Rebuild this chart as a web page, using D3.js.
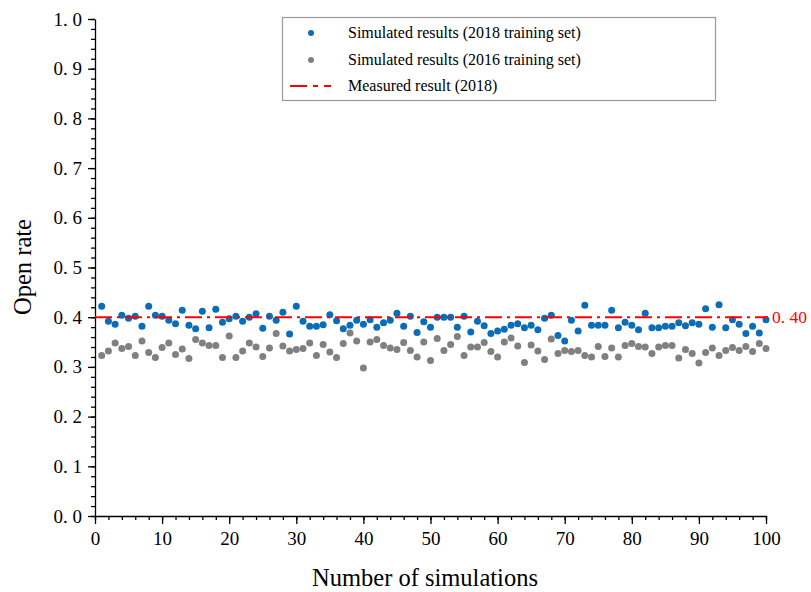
<!DOCTYPE html>
<html lang="en">
<head>
    <meta charset="UTF-8">
    <title>Open rate</title>
    <style>
        body { margin: 0; background: #fff; }
        svg { display: block; font-family: "Liberation Serif", "Times New Roman", serif; }
        .axis path, .axis line { stroke: #000; stroke-width: 1.3; }
        .axis text { font-size: 19px; fill: #000; }
    </style>
</head>
<body>
    <script src="https://d3js.org/d3.v7.min.js"></script>
    <script>
        // simulation index 1..100
        const simulations = d3.range(1, 101)

        const sim2018 = [
            0.422, 0.392, 0.386, 0.404, 0.398, 0.402, 0.382, 0.422, 0.404, 0.402,
            0.394, 0.387, 0.414, 0.384, 0.377, 0.412, 0.379, 0.416, 0.390, 0.397,
            0.402, 0.392, 0.400, 0.407, 0.378, 0.402, 0.394, 0.410, 0.366, 0.422,
            0.392, 0.382, 0.382, 0.385, 0.405, 0.393, 0.377, 0.384, 0.394, 0.386,
            0.395, 0.380, 0.389, 0.394, 0.408, 0.382, 0.402, 0.369, 0.391, 0.380,
            0.400, 0.400, 0.400, 0.380, 0.402, 0.370, 0.392, 0.383, 0.367, 0.372,
            0.376, 0.384, 0.387, 0.379, 0.384, 0.375, 0.398, 0.404, 0.363, 0.352,
            0.394, 0.372, 0.424, 0.384, 0.384, 0.384, 0.414, 0.379, 0.390, 0.384,
            0.375, 0.408, 0.379, 0.379, 0.382, 0.382, 0.389, 0.383, 0.389, 0.386,
            0.417, 0.380, 0.425, 0.379, 0.395, 0.386, 0.367, 0.382, 0.368, 0.395
        ]

        const sim2016 = [
            0.323, 0.332, 0.348, 0.337, 0.341, 0.323, 0.352, 0.329, 0.319, 0.339,
            0.348, 0.325, 0.336, 0.317, 0.355, 0.348, 0.343, 0.343, 0.319, 0.362,
            0.319, 0.332, 0.348, 0.340, 0.321, 0.338, 0.367, 0.342, 0.332, 0.335,
            0.337, 0.348, 0.323, 0.345, 0.330, 0.319, 0.347, 0.368, 0.352, 0.298,
            0.350, 0.355, 0.343, 0.338, 0.335, 0.349, 0.333, 0.320, 0.350, 0.313,
            0.357, 0.333, 0.345, 0.361, 0.323, 0.340, 0.340, 0.349, 0.331, 0.320,
            0.350, 0.358, 0.342, 0.309, 0.344, 0.332, 0.315, 0.356, 0.327, 0.333,
            0.331, 0.333, 0.323, 0.320, 0.341, 0.321, 0.338, 0.320, 0.343, 0.347,
            0.341, 0.340, 0.327, 0.340, 0.343, 0.343, 0.318, 0.335, 0.327, 0.308,
            0.329, 0.338, 0.323, 0.333, 0.339, 0.333, 0.341, 0.331, 0.347, 0.337
        ]

        const measured2018 = 0.40

        const xTicks = [0, 10, 20, 30, 40, 50, 60, 70, 80, 90, 100]
        const yTicks = [0, 0.1, 0.2, 0.3, 0.4, 0.5, 0.6, 0.7, 0.8, 0.9, 1.0]

        const legendLabels = [
            'Simulated results (2018 training set)',
            'Simulated results (2016 training set)',
            'Measured result (2018)'
        ]

        const width = 811
        const height = 592
        const blue = '#0b6db7'
        const gray = '#808080'
        const red = '#ff0000'
        const serif = '"Liberation Serif", "Times New Roman", serif'

        const x = d3.scaleLinear().domain([0, 100]).range([95, 766])
        const y = d3.scaleLinear().domain([0, 1]).range([516, 19])

        const svg = d3.select('body')
            .append('svg')
            .attr('width', width)
            .attr('height', height)

        // "0. 4" style labels, like the original
        const fmt = d => d3.format('.1f')(d).replace('.', '. ')

        // minor ticks first, majors on top
        svg.append('g')
            .attr('class', 'axis')
            .attr('transform', `translate(${x(0)},0)`)
            .call(d3.axisLeft(y).tickValues(d3.range(0, 1.001, 0.02)).tickSize(4).tickFormat(''))
            .call(g => g.select('.domain').remove())

        svg.append('g')
            .attr('class', 'axis')
            .attr('transform', `translate(0,${y(0)})`)
            .call(d3.axisBottom(x).tickValues(d3.range(0, 101, 2)).tickSize(4).tickFormat(''))
            .call(g => g.select('.domain').remove())

        svg.append('g')
            .attr('class', 'axis')
            .attr('transform', `translate(${x(0)},0)`)
            .call(d3.axisLeft(y).tickValues(yTicks).tickSize(7).tickSizeOuter(0).tickPadding(6).tickFormat(fmt))
            .attr('font-family', serif)

        svg.append('g')
            .attr('class', 'axis')
            .attr('transform', `translate(0,${y(0)})`)
            .call(d3.axisBottom(x).tickValues(xTicks).tickSize(8).tickSizeOuter(0).tickPadding(8))
            .attr('font-family', serif)

        // axis titles
        svg.append('text')
            .attr('x', 425)
            .attr('y', 586)
            .attr('text-anchor', 'middle')
            .attr('font-size', 24.5)
            .text('Number of simulations')

        svg.append('text')
            .attr('transform', 'translate(31,267) rotate(-90)')
            .attr('text-anchor', 'middle')
            .attr('font-size', 24.5)
            .text('Open rate')

        // points
        svg.append('g').selectAll('circle')
            .data(simulations)
            .join('circle')
            .attr('cx', d => x(d))
            .attr('cy', (d, i) => y(sim2016[i]))
            .attr('r', 3.5)
            .attr('fill', gray)

        svg.append('g').selectAll('circle')
            .data(simulations)
            .join('circle')
            .attr('cx', d => x(d))
            .attr('cy', (d, i) => y(sim2018[i]))
            .attr('r', 3.5)
            .attr('fill', blue)

        // measured line
        svg.append('line')
            .attr('x1', x(0))
            .attr('x2', x(100) + 2)
            .attr('y1', y(measured2018))
            .attr('y2', y(measured2018))
            .attr('stroke', red)
            .attr('stroke-width', 2)
            .attr('stroke-dasharray', '17,5,3,5')

        svg.append('text')
            .attr('x', x(100) + 6)
            .attr('y', y(measured2018) + 6)
            .attr('fill', red)
            .attr('font-size', 17.5)
            .text(d3.format('.2f')(measured2018).replace('.', '. '))

        // legend
        const legend = svg.append('g')
        legend.append('rect')
            .attr('x', 282.5)
            .attr('y', 17.5)
            .attr('width', 433)
            .attr('height', 83)
            .attr('fill', 'none')
            .attr('stroke', '#999')
            .attr('stroke-width', 1.2)

        const rowY = [33, 60, 86]
        legend.append('circle').attr('cx', 311).attr('cy', rowY[0]).attr('r', 3).attr('fill', blue)
        legend.append('circle').attr('cx', 311).attr('cy', rowY[1]).attr('r', 3).attr('fill', gray)
        legend.append('line')
            .attr('x1', 290).attr('x2', 331)
            .attr('y1', rowY[2]).attr('y2', rowY[2])
            .attr('stroke', red)
            .attr('stroke-width', 2)
            .attr('stroke-dasharray', '17,6,5,6')

        legend.selectAll('text.lbl')
            .data(legendLabels)
            .join('text')
            .attr('class', 'lbl')
            .attr('x', 348)
            .attr('y', (d, i) => rowY[i] + 5)
            .attr('font-size', 16)
            .text(d => d)
    </script>
</body>
</html>
